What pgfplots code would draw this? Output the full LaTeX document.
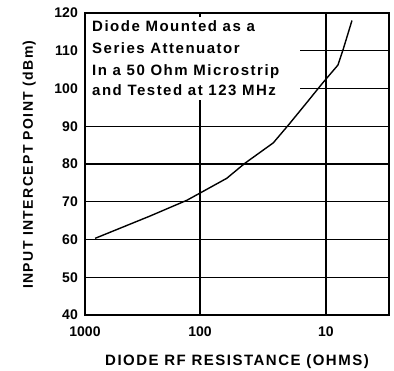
\documentclass[border=0pt]{standalone}
\usepackage{pgfplots}
\pgfplotsset{compat=1.18}
\usepackage{fontspec}
\setmainfont{Liberation Sans}
\newfontfamily\lbl[LetterSpace=10]{Liberation Sans}
\newfontfamily\tck{Liberation Sans}
\begin{document}
\begin{tikzpicture}
\begin{axis}[
  scale only axis, width=304bp, height=302bp,
  xmode=log, x dir=reverse, xmin=3.16, xmax=819,
  ymin=40, ymax=120,
  xtick={819,100,10}, xticklabels={1000,100,10},
  ytick={40,50,...,120},
  major tick length=0pt, minor tick num=0,
  xminorticks=false,
  ymajorgrids, xmajorgrids,
  grid style={black, line width=1.4bp},
  axis line style={line width=1.5bp},
  /pgf/number format/assume math mode=true,
  ticklabel style={font=\tck\bfseries\fontsize{14bp}{14bp}\selectfont, inner sep=0pt},
  yticklabel style={anchor=east, xshift=-7bp},
  xticklabel style={anchor=north, yshift=-12bp},
  xlabel={DIODE RF RESISTANCE (OHMS)},
  ylabel={INPUT INTERCEPT POINT (dBm)},
  label style={inner sep=0pt},
  xlabel style={font=\lbl\bfseries\fontsize{15bp}{15bp}\selectfont, at={(axis description cs:0.5,0)}, anchor=base, yshift=-51bp},
  ylabel style={font=\lbl\bfseries\fontsize{14bp}{14bp}\selectfont, at={(axis description cs:0,0.498)}, anchor=base, rotate=0, yshift=52bp},
]
\fill[white] ([shift={(0.9bp,-0.9bp)}]axis cs:819,120) rectangle (axis cs:16.1,97);
\draw[line width=1.4bp] (axis cs:100,120) -- ([yshift=-4bp]axis cs:100,120);
\node[font=\lbl\bfseries\fontsize{15bp}{15bp}\selectfont, anchor=base west, inner sep=0pt] at ([shift={(7bp,-19bp)}]axis cs:819,120) {Diode Mounted as a};
\node[font=\lbl\bfseries\fontsize{15bp}{15bp}\selectfont, anchor=base west, inner sep=0pt] at ([shift={(7bp,-41bp)}]axis cs:819,120) {Series Attenuator};
\node[font=\lbl\bfseries\fontsize{15bp}{15bp}\selectfont, anchor=base west, inner sep=0pt] at ([shift={(7bp,-63bp)}]axis cs:819,120) {In a 50 Ohm Microstrip};
\node[font=\lbl\bfseries\fontsize{15bp}{15bp}\selectfont, anchor=base west, inner sep=0pt] at ([shift={(7bp,-83bp)}]axis cs:819,120) {and Tested at 123 MHz};
\addplot[black, line width=1.4bp] coordinates {
 (681,60.3) (250,66.2) (127,70.4) (100,72.3) (61.4,76.2) (44,80.2)
 (26.2,85.6) (19.9,90.3) (14.5,95.9) (10.6,101.5) (8.04,106.2)
 (7.33,110.2) (6.22,118)
};
\end{axis}
\pgfresetboundingbox
\useasboundingbox ([shift={(-85bp,-56bp)}]current axis.south west) rectangle ([shift={(5bp,13bp)}]current axis.north east);
\end{tikzpicture}
\end{document}
